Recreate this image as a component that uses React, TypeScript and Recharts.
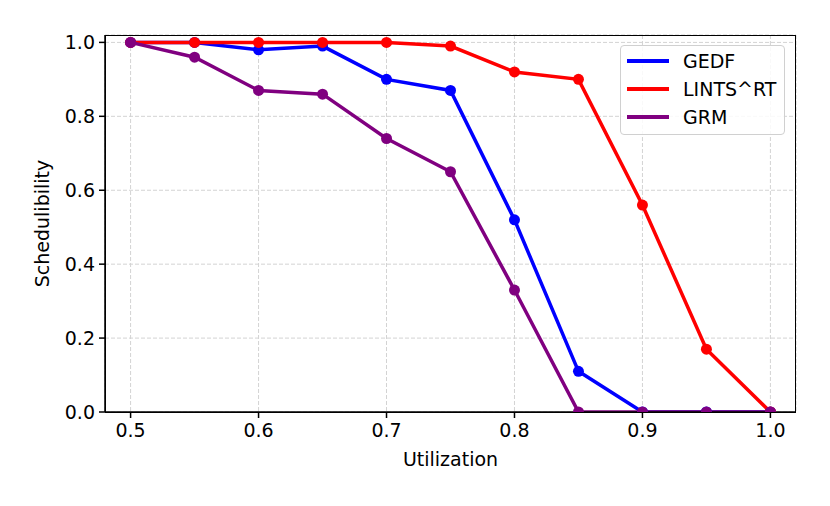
import React from 'react'
import {
  LineChart,
  Line,
  XAxis,
  YAxis,
  CartesianGrid,
  Label,
} from 'recharts'

const utilization = [0.5, 0.55, 0.6, 0.65, 0.7, 0.75, 0.8, 0.85, 0.9, 0.95, 1.0]
const gedf = [1.0, 1.0, 0.98, 0.99, 0.9, 0.87, 0.52, 0.11, 0.0, 0.0, 0.0]
const lintsRt = [1.0, 1.0, 1.0, 1.0, 1.0, 0.99, 0.92, 0.9, 0.56, 0.17, 0.0]
const grm = [1.0, 0.96, 0.87, 0.86, 0.74, 0.65, 0.33, 0.0, 0.0, 0.0, 0.0]

const xTicks = [0.5, 0.6, 0.7, 0.8, 0.9, 1.0]
const yTicks = [0, 0.2, 0.4, 0.6, 0.8, 1.0]

const series = [
  { key: 'gedf', name: 'GEDF', color: '#0000ff' },
  { key: 'lints', name: 'LINTS^RT', color: '#ff0000' },
  { key: 'grm', name: 'GRM', color: '#800080' },
]

const data = utilization.map((u, i) => ({
  u,
  gedf: gedf[i],
  lints: lintsRt[i],
  grm: grm[i],
}))

const FONT = 'DejaVu Sans, sans-serif'
const FS = 19
const tickStyle = { fill: '#000', fontSize: FS, fontFamily: FONT }

function LegendBox() {
  return (
    <div
      style={{
        position: 'absolute',
        left: 620,
        top: 45,
        width: 165,
        height: 90,
        boxSizing: 'border-box',
        border: '1.5px solid #d0d0d0',
        borderRadius: 4,
        background: 'rgba(255,255,255,0.85)',
        padding: '1px 0 0 6px',
        fontFamily: FONT,
        fontSize: FS,
      }}
    >
      {series.map((s) => (
        <div key={s.key} style={{ display: 'flex', alignItems: 'center', height: 28 }}>
          <div style={{ width: 42, height: 3.5, background: s.color, marginRight: 14 }} />
          <span>{s.name}</span>
        </div>
      ))}
    </div>
  )
}

export default function App() {
  return (
    <div style={{ position: 'absolute', left: 0, top: 0, width: 830, height: 506, background: '#fff' }}>
      <LineChart
        width={830}
        height={506}
        data={data}
        margin={{ top: 35, right: 34, bottom: 0, left: 0 }}
      >
        <CartesianGrid stroke="#d3d3d3" strokeDasharray="4 2" />
        <XAxis
          dataKey="u"
          type="number"
          domain={[0.48, 1.02]}
          ticks={xTicks}
          tickFormatter={(v: number) => v.toFixed(1)}
          tick={tickStyle}
          tickSize={6}
          tickMargin={6}
          height={94}
          stroke="#000"
          strokeWidth={1.5}
          allowDataOverflow
        >
          <Label value="Utilization" position="insideTop" offset={41} style={{ fill: '#000', fontSize: FS, fontFamily: FONT }} />
        </XAxis>
        <YAxis
          type="number"
          domain={[0, 1.02]}
          ticks={yTicks}
          tickFormatter={(v: number) => v.toFixed(1)}
          tick={tickStyle}
          tickSize={6}
          tickMargin={4}
          width={105}
          stroke="#000"
          strokeWidth={1.5}
          allowDataOverflow
        >
          <Label
            value="Schedulibility"
            angle={-90}
            position="insideLeft"
            offset={42}
            style={{ fill: '#000', fontSize: FS, fontFamily: FONT, textAnchor: 'middle' }}
          />
        </YAxis>
        {series.map((s) => (
          <Line
            key={s.key}
            dataKey={s.key}
            name={s.name}
            stroke={s.color}
            strokeWidth={3.5}
            dot={{ r: 5.5, fill: s.color, stroke: s.color, strokeWidth: 0 }}
            activeDot={false}
            isAnimationActive={false}
          />
        ))}
      </LineChart>
      <LegendBox />
      <div
        style={{
          position: 'absolute',
          left: 105,
          top: 35,
          width: 691,
          height: 378,
          border: '1.5px solid #000',
          boxSizing: 'border-box',
          pointerEvents: 'none',
        }}
      />
    </div>
  )
}
